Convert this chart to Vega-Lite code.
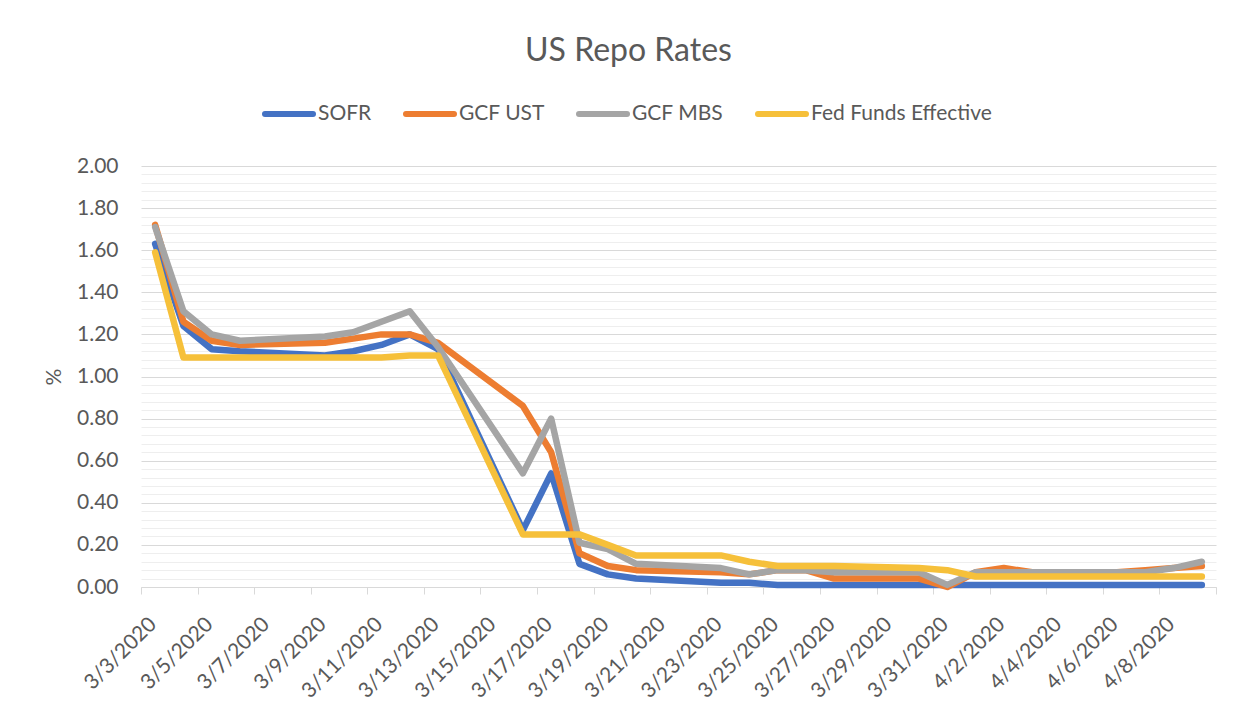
{
  "$schema": "https://vega.github.io/schema/vega-lite/v6.json",
  "width": 1075,
  "height": 421,
  "autosize": {"type": "none"},
  "padding": {"left": 141, "top": 166, "right": 31, "bottom": 121},
  "background": "white",
  "config": {"view": {"stroke": null}, "font": "Lato"},
  "title": {"text": "US Repo Rates", "fontSize": 32, "font": "Lato", "fontWeight": "normal", "color": "#595959", "anchor": "middle", "frame": "group", "dx": -50, "offset": 19},
  "data": {"values": [
    {"date": "2020-03-03", "SOFR": 1.63, "GCF UST": 1.72, "GCF MBS": 1.71, "Fed Funds Effective": 1.59},
    {"date": "2020-03-04", "SOFR": 1.24, "GCF UST": 1.26, "GCF MBS": 1.31, "Fed Funds Effective": 1.09},
    {"date": "2020-03-05", "SOFR": 1.13, "GCF UST": 1.17, "GCF MBS": 1.20, "Fed Funds Effective": 1.09},
    {"date": "2020-03-06", "SOFR": 1.12, "GCF UST": 1.15, "GCF MBS": 1.17, "Fed Funds Effective": 1.09},
    {"date": "2020-03-09", "SOFR": 1.10, "GCF UST": 1.16, "GCF MBS": 1.19, "Fed Funds Effective": 1.09},
    {"date": "2020-03-10", "SOFR": 1.12, "GCF UST": 1.18, "GCF MBS": 1.21, "Fed Funds Effective": 1.09},
    {"date": "2020-03-11", "SOFR": 1.15, "GCF UST": 1.20, "GCF MBS": 1.26, "Fed Funds Effective": 1.09},
    {"date": "2020-03-12", "SOFR": 1.20, "GCF UST": 1.20, "GCF MBS": 1.31, "Fed Funds Effective": 1.10},
    {"date": "2020-03-13", "SOFR": 1.13, "GCF UST": 1.16, "GCF MBS": 1.14, "Fed Funds Effective": 1.10},
    {"date": "2020-03-16", "SOFR": 0.27, "GCF UST": 0.86, "GCF MBS": 0.54, "Fed Funds Effective": 0.25},
    {"date": "2020-03-17", "SOFR": 0.54, "GCF UST": 0.64, "GCF MBS": 0.80, "Fed Funds Effective": 0.25},
    {"date": "2020-03-18", "SOFR": 0.11, "GCF UST": 0.16, "GCF MBS": 0.21, "Fed Funds Effective": 0.25},
    {"date": "2020-03-19", "SOFR": 0.06, "GCF UST": 0.10, "GCF MBS": 0.18, "Fed Funds Effective": 0.20},
    {"date": "2020-03-20", "SOFR": 0.04, "GCF UST": 0.08, "GCF MBS": 0.11, "Fed Funds Effective": 0.15},
    {"date": "2020-03-23", "SOFR": 0.02, "GCF UST": 0.07, "GCF MBS": 0.09, "Fed Funds Effective": 0.15},
    {"date": "2020-03-24", "SOFR": 0.02, "GCF UST": 0.06, "GCF MBS": 0.06, "Fed Funds Effective": 0.12},
    {"date": "2020-03-25", "SOFR": 0.01, "GCF UST": 0.08, "GCF MBS": 0.08, "Fed Funds Effective": 0.10},
    {"date": "2020-03-26", "SOFR": 0.01, "GCF UST": 0.08, "GCF MBS": 0.08, "Fed Funds Effective": 0.10},
    {"date": "2020-03-27", "SOFR": 0.01, "GCF UST": 0.04, "GCF MBS": 0.07, "Fed Funds Effective": 0.10},
    {"date": "2020-03-30", "SOFR": 0.01, "GCF UST": 0.04, "GCF MBS": 0.07, "Fed Funds Effective": 0.09},
    {"date": "2020-03-31", "SOFR": 0.01, "GCF UST": 0.00, "GCF MBS": 0.01, "Fed Funds Effective": 0.08},
    {"date": "2020-04-01", "SOFR": 0.01, "GCF UST": 0.07, "GCF MBS": 0.07, "Fed Funds Effective": 0.05},
    {"date": "2020-04-02", "SOFR": 0.01, "GCF UST": 0.09, "GCF MBS": 0.07, "Fed Funds Effective": 0.05},
    {"date": "2020-04-03", "SOFR": 0.01, "GCF UST": 0.07, "GCF MBS": 0.07, "Fed Funds Effective": 0.05},
    {"date": "2020-04-06", "SOFR": 0.01, "GCF UST": 0.07, "GCF MBS": 0.07, "Fed Funds Effective": 0.05},
    {"date": "2020-04-07", "SOFR": 0.01, "GCF UST": 0.08, "GCF MBS": 0.07, "Fed Funds Effective": 0.05},
    {"date": "2020-04-08", "SOFR": 0.01, "GCF UST": 0.09, "GCF MBS": 0.09, "Fed Funds Effective": 0.05},
    {"date": "2020-04-09", "SOFR": 0.01, "GCF UST": 0.10, "GCF MBS": 0.12, "Fed Funds Effective": 0.05}
  ]},
  "transform": [
    {"fold": ["SOFR", "GCF UST", "GCF MBS", "Fed Funds Effective"], "as": ["series", "value"]}
  ],
  "mark": {"type": "line", "strokeWidth": 6.5, "strokeCap": "round", "strokeJoin": "round"},
  "encoding": {
    "x": {
      "field": "date", "type": "temporal",
      "scale": {"type": "utc", "domain": [
        {"year": 2020, "month": 3, "date": 2, "hours": 12, "utc": true},
        {"year": 2020, "month": 4, "date": 9, "hours": 12, "utc": true}
      ]},
      "axis": {
        "title": null,
        "grid": false,
        "values": [
          {"year": 2020, "month": 3, "date": 2, "hours": 12, "utc": true},
          {"year": 2020, "month": 3, "date": 4, "hours": 12, "utc": true},
          {"year": 2020, "month": 3, "date": 6, "hours": 12, "utc": true},
          {"year": 2020, "month": 3, "date": 8, "hours": 12, "utc": true},
          {"year": 2020, "month": 3, "date": 10, "hours": 12, "utc": true},
          {"year": 2020, "month": 3, "date": 12, "hours": 12, "utc": true},
          {"year": 2020, "month": 3, "date": 14, "hours": 12, "utc": true},
          {"year": 2020, "month": 3, "date": 16, "hours": 12, "utc": true},
          {"year": 2020, "month": 3, "date": 18, "hours": 12, "utc": true},
          {"year": 2020, "month": 3, "date": 20, "hours": 12, "utc": true},
          {"year": 2020, "month": 3, "date": 22, "hours": 12, "utc": true},
          {"year": 2020, "month": 3, "date": 24, "hours": 12, "utc": true},
          {"year": 2020, "month": 3, "date": 26, "hours": 12, "utc": true},
          {"year": 2020, "month": 3, "date": 28, "hours": 12, "utc": true},
          {"year": 2020, "month": 3, "date": 30, "hours": 12, "utc": true},
          {"year": 2020, "month": 4, "date": 1, "hours": 12, "utc": true},
          {"year": 2020, "month": 4, "date": 3, "hours": 12, "utc": true},
          {"year": 2020, "month": 4, "date": 5, "hours": 12, "utc": true},
          {"year": 2020, "month": 4, "date": 7, "hours": 12, "utc": true},
          {"year": 2020, "month": 4, "date": 9, "hours": 12, "utc": true}
        ],
        "labelExpr": "datum.value > 1586390400000 ? '' : utcFormat(datum.value + 43200000, '%-m/%-d/%Y')",
        "labelAngle": -45,
        "labelAlign": "right",
        "labelBaseline": "top",
        "labelOffset": 4,
        "labelPadding": 19,
        "labelFontSize": 21,
        "labelFont": "Lato",
        "labelColor": "#595959",
        "labelOverlap": false,
        "labelFlush": false,
        "labelBound": false,
        "tickSize": 7,
        "tickColor": "#d9d9d9",
        "domainColor": "#d9d9d9",
        "domainWidth": 1
      }
    },
    "y": {
      "field": "value", "type": "quantitative",
      "scale": {"domain": [0, 2], "nice": false},
      "axis": {
        "title": "%",
        "titleFontSize": 21,
        "titleFont": "Lato",
        "titleFontWeight": "normal",
        "titleColor": "#595959",
        "titlePadding": 12,
        "values": [0, 0.04, 0.08, 0.12, 0.16, 0.2, 0.24, 0.28, 0.32, 0.36, 0.4, 0.44, 0.48, 0.52, 0.56, 0.6, 0.64, 0.68, 0.72, 0.76, 0.8, 0.84, 0.88, 0.92, 0.96, 1, 1.04, 1.08, 1.12, 1.16, 1.2, 1.24, 1.28, 1.32, 1.36, 1.4, 1.44, 1.48, 1.52, 1.56, 1.6, 1.64, 1.68, 1.72, 1.76, 1.8, 1.84, 1.88, 1.92, 1.96, 2],
        "labelExpr": "abs(datum.value * 5 - round(datum.value * 5)) < 0.001 ? format(datum.value, '.2f') : ''",
        "gridColor": {"condition": {"test": "abs(datum.value * 5 - round(datum.value * 5)) < 0.001", "value": "#d9d9d9"}, "value": "#eeeeee"},
        "gridWidth": 1,
        "domain": false,
        "ticks": false,
        "labelPadding": 23,
        "labelFontSize": 21,
        "labelFont": "Lato",
        "labelColor": "#595959",
        "labelOverlap": false,
        "labelFlush": false
      }
    },
    "color": {
      "field": "series", "type": "nominal",
      "scale": {"domain": ["SOFR", "GCF UST", "GCF MBS", "Fed Funds Effective"], "range": ["#4472C4", "#ED7D31", "#A5A5A5", "#F6C03A"]},
      "legend": {
        "orient": "none",
        "legendX": 121,
        "legendY": -79,
        "direction": "horizontal",
        "title": null,
        "symbolType": "stroke",
        "symbolStrokeWidth": 6,
        "symbolSize": 2304,
        "labelFontSize": 21,
        "labelFont": "Lato",
        "labelColor": "#595959",
        "labelOffset": 2,
        "labelLimit": 0,
        "columnPadding": 22,
        "encode": {"symbols": {"update": {"strokeCap": {"value": "round"}}}}
      }
    }
  }
}
